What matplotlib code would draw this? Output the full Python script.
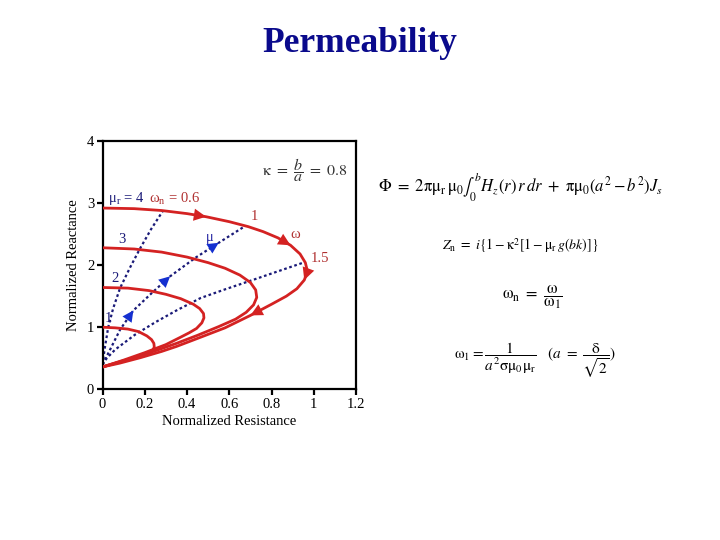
import matplotlib.pyplot as plt
import numpy as np

plt.rcParams['font.family'] = ['Liberation Serif', 'DejaVu Serif']
plt.rcParams['mathtext.fontset'] = 'stix'

# normalized impedance loops, one per mu_r
# each one runs from omega -> 0 (top, on the y axis) round to omega -> inf (0, 0.36)
r4_x = [0.00, 0.15, 0.28, 0.40, 0.49, 0.60, 0.69, 0.76, 0.83, 0.89, 0.935, 0.96, 0.97,
        0.955, 0.92, 0.87, 0.80, 0.70, 0.58, 0.45, 0.35, 0.28, 0.18, 0.08, 0.00]
r4_y = [2.92, 2.91, 2.88, 2.83, 2.78, 2.70, 2.62, 2.54, 2.44, 2.32, 2.18, 2.04, 1.90,
        1.76, 1.62, 1.50, 1.37, 1.19, 0.99, 0.82, 0.69, 0.61, 0.51, 0.42, 0.36]

r3_x = [0.00, 0.15, 0.28, 0.40, 0.50, 0.58, 0.65, 0.70, 0.725, 0.73, 0.715, 0.68,
        0.63, 0.55, 0.45, 0.35, 0.25, 0.12, 0.00]
r3_y = [2.28, 2.26, 2.21, 2.13, 2.04, 1.95, 1.84, 1.72, 1.60, 1.48, 1.36, 1.24,
        1.13, 1.01, 0.87, 0.74, 0.62, 0.48, 0.36]

r2_x = [0.00, 0.12, 0.22, 0.30, 0.37, 0.43, 0.46, 0.478, 0.48, 0.47, 0.445, 0.41,
        0.37, 0.30, 0.20, 0.10, 0.00]
r2_y = [1.64, 1.63, 1.59, 1.53, 1.46, 1.37, 1.30, 1.22, 1.15, 1.07, 0.98, 0.91,
        0.84, 0.72, 0.59, 0.47, 0.36]

r1_x = [0.00, 0.06, 0.12, 0.17, 0.21, 0.232, 0.243, 0.245, 0.235, 0.21, 0.16, 0.10,
        0.05, 0.00]
r1_y = [1.00, 0.99, 0.97, 0.93, 0.86, 0.80, 0.74, 0.68, 0.61, 0.56, 0.51, 0.46,
        0.41, 0.36]

# constant-omega_n lines, mu_r going from 0 up to 4
w06_x = [0.00, 0.01, 0.027, 0.05, 0.083, 0.13, 0.178, 0.23, 0.285]
w06_y = [0.40, 0.65, 1.00, 1.30, 1.63, 1.96, 2.27, 2.58, 2.87]

w1_x = [0.00, 0.03, 0.083, 0.146, 0.233, 0.32, 0.44, 0.55, 0.675]
w1_y = [0.40, 0.60, 0.96, 1.27, 1.55, 1.82, 2.12, 2.36, 2.63]

w15_x = [0.00, 0.02, 0.06, 0.154, 0.25, 0.35, 0.464, 0.58, 0.71, 0.83, 0.95]
w15_y = [0.40, 0.50, 0.64, 0.88, 1.08, 1.27, 1.47, 1.61, 1.76, 1.90, 2.04]

# where the arrow heads sit (point index along the curve)
red_arrows = [4, 9, 13, 17]
blue_arrows = [3, 5, 7]

red = '#d42222'
navy = '#1a1a78'
labred = '#b03030'


def head(ax, xs, ys, i, color, size):
    ax.annotate('', xy=(xs[i], ys[i]), xytext=(xs[i - 1], ys[i - 1]),
                arrowprops=dict(arrowstyle='-|>', color=color, lw=0,
                                mutation_scale=size, shrinkA=0, shrinkB=0))


fig = plt.figure(figsize=(7.2, 5.4), dpi=100)
ax = fig.add_axes([0.1424, 0.2791, 0.3521, 0.4598])

for xs, ys in [(w06_x, w06_y), (w1_x, w1_y), (w15_x, w15_y)]:
    ax.plot(xs, ys, color=navy, lw=1.6, linestyle=(0, (1.2, 1.2)), zorder=2)

for xs, ys in [(r4_x, r4_y), (r3_x, r3_y), (r2_x, r2_y), (r1_x, r1_y)]:
    ax.plot(xs, ys, color=red, lw=2.0, solid_capstyle='round',
            solid_joinstyle='round', zorder=3)

for i in red_arrows:
    head(ax, r4_x, r4_y, i, red, 22)
for i in blue_arrows:
    head(ax, w1_x, w1_y, i, '#1530d0', 20)

# labels on the chart
fs = 10.5
ax.text(0.025, 3.08, r'μ$_\mathregular{r}$ = 4', color=navy, fontsize=fs, va='center')
ax.text(0.22, 3.07, r'ω$_\mathregular{n}$ = 0.6', color=labred, fontsize=fs, va='center')
ax.text(0.09, 2.41, '3', color=navy, fontsize=fs, ha='center', va='center')
ax.text(0.06, 1.78, '2', color=navy, fontsize=fs, ha='center', va='center')
ax.text(0.03, 1.14, '1', color=navy, fontsize=fs, ha='center', va='center')
ax.text(0.49, 2.44, 'μ', color='#2020a0', fontsize=fs, va='center')
ax.text(0.72, 2.78, '1', color=labred, fontsize=fs, ha='center', va='center')
ax.text(0.91, 2.50, 'ω', color=labred, fontsize=fs, ha='center', va='center')
ax.text(0.985, 2.10, '1.5', color=labred, fontsize=fs, va='center')
ax.text(0.96, 3.53, r'$\mathrm{\kappa}\ =\ \dfrac{b}{a}\ =\ 0.8$', color='#333333',
        fontsize=11.5, ha='center', va='center')

ax.set_xlim(0, 1.2)
ax.set_ylim(0, 4)
ax.set_xticks(np.arange(0, 1.21, 0.2))
ax.set_xticklabels(['0', '0.2', '0.4', '0.6', '0.8', '1', '1.2'])
ax.set_yticks([0, 1, 2, 3, 4])
for s in ax.spines.values():
    s.set_linewidth(1.6)
ax.tick_params(direction='out', length=4, width=1.6, labelsize=fs, pad=2)
ax.set_xlabel('Normalized Resistance', fontsize=fs, labelpad=3)
ax.set_ylabel('Normalized Reactance', fontsize=fs, labelpad=5)

fig.text(0.5, 1 - 52 / 540, 'Permeability', ha='center', va='baseline',
         fontsize=25.5, fontweight='bold', color='#0a0a8c')

# equations on the right
fig.text(0.7236, 0.6537,
         r'$\Phi\ =\ 2\mathrm{\pi\mu}_\mathrm{r}\,\mathrm{\mu}_0\int_0^b H_z(r)\,r\,dr\ +\ '
         r'\mathrm{\pi\mu}_0(a^2-b^2)J_s$',
         fontsize=12, ha='center', va='center')
fig.text(0.722, 0.546,
         r'$Z_\mathrm{n}\ =\ i\{1-\mathrm{\kappa}^2[1-\mathrm{\mu}_\mathrm{r}\,g(bk)]\}$',
         fontsize=10, ha='center', va='center')
fig.text(0.740, 0.450, r'$\mathrm{\omega}_\mathrm{n}\ =\ \dfrac{\mathrm{\omega}}{\mathrm{\omega}_1}$',
         fontsize=12, ha='center', va='center')
fig.text(0.743, 0.333,
         r'$\mathrm{\omega}_1 = \dfrac{1}{a^2\mathrm{\sigma\mu}_0\mathrm{\mu}_\mathrm{r}}'
         r'\quad(a\ =\ \dfrac{\mathrm{\delta}}{\sqrt{2}})$',
         fontsize=11, ha='center', va='center')

fig.savefig('out.png', dpi=100)
